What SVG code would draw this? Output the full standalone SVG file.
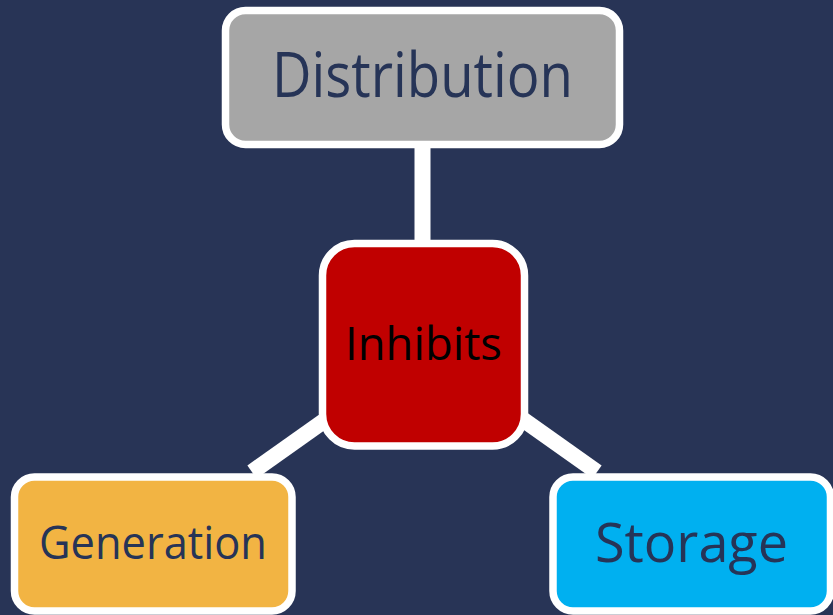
<svg xmlns="http://www.w3.org/2000/svg" width="833" height="615" viewBox="0 0 833 615">
<style>
.box{stroke:#FFFFFF;stroke-width:7.5}
.lbl{font-family:"Open Sans","Noto Sans","Liberation Sans",sans-serif;text-anchor:middle;fill:#263457}
.conn{stroke:#FFFFFF;stroke-width:16;fill:none;stroke-linecap:butt}
</style>
<rect x="0" y="0" width="833" height="615" fill="#283456"/>
<g id="connectors">
<line class="conn" x1="422.5" y1="140" x2="422.5" y2="250"/>
<line class="conn" x1="338" y1="411" x2="252" y2="472"/>
<line class="conn" x1="511" y1="411" x2="597" y2="472"/>
</g>
<g id="distribution">
<rect class="box" x="225.5" y="10.5" width="394" height="134" rx="20" fill="#A6A6A6"/>
<text class="lbl" x="422.5" y="97" font-size="62" textLength="301" lengthAdjust="spacingAndGlyphs">Distribution</text>
</g>
<g id="inhibits">
<rect class="box" x="322.5" y="243.5" width="202" height="202.5" rx="32" fill="#C00000"/>
<text class="lbl" x="423.5" y="360" font-size="46" fill="#000000" style="fill:#000000" textLength="157" lengthAdjust="spacingAndGlyphs">Inhibits</text>
</g>
<g id="generation">
<rect class="box" x="14.5" y="477" width="277.5" height="134" rx="20" fill="#F2B443"/>
<text class="lbl" x="153" y="559" font-size="45" textLength="228" lengthAdjust="spacingAndGlyphs">Generation</text>
</g>
<g id="storage">
<rect class="box" x="553" y="477" width="277.5" height="134" rx="20" fill="#00B0F0"/>
<text class="lbl" x="691.5" y="562" font-size="55" textLength="193" lengthAdjust="spacingAndGlyphs">Storage</text>
</g>
</svg>
